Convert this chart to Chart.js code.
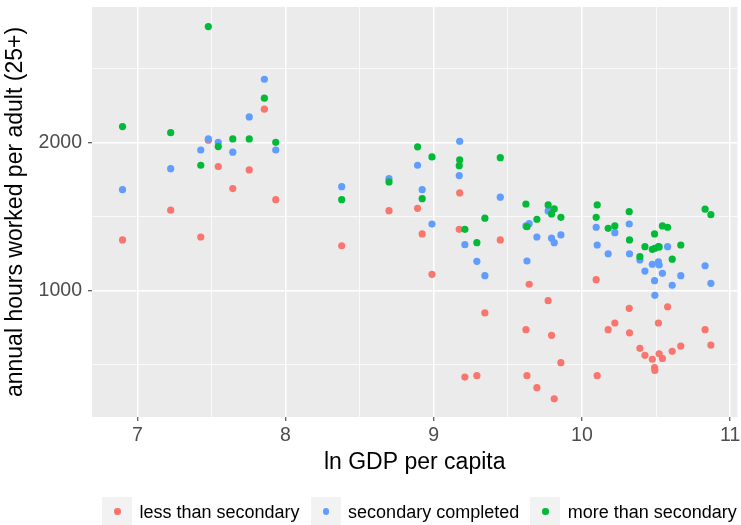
<!DOCTYPE html>
<html>
<head>
<meta charset="utf-8">
<script src="https://cdn.jsdelivr.net/npm/chart.js@4.4.1/dist/chart.umd.min.js"></script>
<style>
  html, body { margin: 0; padding: 0; background: #FFFFFF; }
  #wrap { position: relative; width: 741px; height: 525px; overflow: hidden; background: #FFFFFF; }
  #chart { position: absolute; left: 0; top: 0; }
  #legend { position: absolute; left: 102px; top: 497px; height: 30px; display: flex; align-items: center;
            font-family: "Liberation Sans", Arial, sans-serif; font-size: 18px; color: #000000; white-space: nowrap; }
  .item { display: flex; align-items: center; margin-right: 11px; }
  .key { width: 30px; height: 30px; background: #F2F2F2; position: relative; }
  .dot { position: absolute; left: 12px; top: 11px; width: 6.5px; height: 6.5px; border-radius: 50%; }
  .lab { margin-left: 7.5px; line-height: 30px; }
</style>
</head>
<body>
<div id="wrap">
  <canvas id="chart" width="741" height="525"></canvas>
  <div id="legend"></div>
</div>
<script>
// ---- data ----
const lnGdp = [6.90, 7.225, 7.428, 7.479, 7.546, 7.644, 7.755, 7.857, 7.934,
  8.379, 8.698, 8.891, 8.922, 8.988, 9.175, 9.172, 9.210, 9.291, 9.345, 9.449,
  9.622, 9.629, 9.644, 9.696, 9.772, 9.795, 9.813, 9.858,
  10.096, 10.103, 10.177, 10.222, 10.319, 10.321, 10.391, 10.425, 10.475, 10.490,
  10.492, 10.516, 10.521, 10.543, 10.578, 10.609, 10.667, 10.831, 10.870];

const lessThanSecondary = [1340, 1541, 1360, 2014, 1836, 1687, 1813, 2224, 1612,
  1301, 1538, 1554, 1381, 1108, 1658, 1412, 414, 423, 847, 1340,
  734, 423, 1041, 342, 930, 696, 267, 511,
  1072, 423, 734, 779, 878, 713, 608, 561, 534, 477,
  459, 779, 571, 540, 889, 588, 623, 734, 630];

const secondaryCompleted = [1680, 1822, 1948, 2023, 2000, 1933, 2171, 2426, 1948,
  1700, 1754, 1845, 1680, 1448, 2007, 1775, 1308, 1196, 1099, 1629,
  1435, 1198, 1450, 1360, 1536, 1352, 1322, 1374,
  1426, 1306, 1247, 1389, 1448, 1247, 1205, 1130, 1176, 1065,
  966, 1193, 1171, 1115, 1295, 1034, 1099, 1166, 1047];

const moreThanSecondary = [2106, 2065, 1845, 2782, 1971, 2023, 2023, 2298, 2000,
  1612, 1732, 1969, 1619, 1901, 1881, 1842, 1412, 1322, 1487, 1896,
  1583, 1430, null, 1480, 1577, 1516, 1550, 1493,
  1493, 1577, 1419, 1435, 1531, 1340, 1227, 1295, 1277, 1381,
  1284, 1295, 1293, 1435, 1426, 1210, 1306, 1548, 1511];

const seriesNames = ["less than secondary", "secondary completed", "more than secondary"];
const seriesValues = [lessThanSecondary, secondaryCompleted, moreThanSecondary];

const xTickValues = [7, 8, 9, 10, 11];
const xTickLabels = ["7", "8", "9", "10", "11"];
const yTickValues = [1000, 2000];
const yTickLabels = ["1000", "2000"];
const xGridValues = [7, 7.5, 8, 8.5, 9, 9.5, 10, 10.5, 11];
const yGridValues = [500, 1000, 1500, 2000, 2500];

const xTitle = "ln GDP per capita";
const yTitle = "annual hours worked per adult (25+)";

// ---- styles ----
const colors = ["#F8766D", "#619CFF", "#00BA38"];
const FONT = "'Liberation Sans', Arial, sans-serif";

const panelBg = {
  id: "panelBg",
  beforeDraw(chart) {
    const { ctx, chartArea: a } = chart;
    ctx.save();
    ctx.fillStyle = "#EBEBEB";
    ctx.fillRect(a.left, a.top, a.right - a.left, a.bottom - a.top);
    ctx.restore();
  }
};

function isMajor(ctx, majors) {
  return ctx.tick && majors.indexOf(ctx.tick.value) >= 0;
}

const datasets = seriesNames.map((name, k) => ({
  label: name,
  data: lnGdp.map((x, i) => ({ x: x, y: seriesValues[k][i] })).filter(p => p.y !== null),
  backgroundColor: colors[k],
  borderColor: colors[k],
  borderWidth: 0,
  pointRadius: 3.6,
  pointHoverRadius: 3.6,
  order: 3 - k
}));

new Chart(document.getElementById("chart"), {
  type: "scatter",
  data: { datasets: datasets },
  plugins: [panelBg],
  options: {
    responsive: false,
    animation: false,
    devicePixelRatio: 1,
    layout: { padding: { top: 7, right: 3.5, left: 0, bottom: 0 } },
    plugins: { legend: { display: false }, tooltip: { enabled: false } },
    scales: {
      x: {
        type: "linear",
        min: 6.694,
        max: 11.049,
        afterBuildTicks: s => { s.ticks = xGridValues.map(v => ({ value: v })); },
        afterFit: s => { s.height = 108; s.paddingLeft = 0; s.paddingRight = 0; },
        border: { display: false },
        grid: {
          color: "#FFFFFF",
          lineWidth: c => isMajor(c, xTickValues) ? 1.5 : 0.75,
          tickColor: c => isMajor(c, xTickValues) ? "#333333" : "rgba(0,0,0,0)",
          tickLength: 4,
          tickWidth: 1
        },
        ticks: {
          autoSkip: false,
          maxRotation: 0,
          padding: 3,
          color: "#4D4D4D",
          font: { family: FONT, size: 19.5 },
          callback: v => { const i = xTickValues.indexOf(v); return i >= 0 ? xTickLabels[i] : ""; }
        },
        title: {
          display: true,
          text: xTitle,
          color: "#000000",
          font: { family: FONT, size: 23 },
          padding: { top: 0, bottom: 49 }
        }
      },
      y: {
        type: "linear",
        min: 144,
        max: 2914,
        afterBuildTicks: s => { s.ticks = yGridValues.map(v => ({ value: v })); },
        afterFit: s => { s.width = 92; s.paddingTop = 0; s.paddingBottom = 0; },
        border: { display: false },
        grid: {
          color: "#FFFFFF",
          lineWidth: c => isMajor(c, yTickValues) ? 1.5 : 0.75,
          tickColor: c => isMajor(c, yTickValues) ? "#333333" : "rgba(0,0,0,0)",
          tickLength: 4,
          tickWidth: 1
        },
        ticks: {
          autoSkip: false,
          padding: 6,
          color: "#4D4D4D",
          font: { family: FONT, size: 19.5 },
          callback: v => { const i = yTickValues.indexOf(v); return i >= 0 ? yTickLabels[i] : ""; }
        },
        title: {
          display: true,
          text: yTitle,
          color: "#000000",
          font: { family: FONT, size: 23 },
          padding: { top: 2, bottom: 0 }
        }
      }
    }
  }
});

// ---- HTML legend built from the series names ----
const legend = document.getElementById("legend");
seriesNames.forEach((name, k) => {
  const item = document.createElement("div");
  item.className = "item";
  const key = document.createElement("span");
  key.className = "key";
  const dot = document.createElement("span");
  dot.className = "dot";
  dot.style.background = colors[k];
  key.appendChild(dot);
  const lab = document.createElement("span");
  lab.className = "lab";
  lab.textContent = name;
  item.appendChild(key);
  item.appendChild(lab);
  legend.appendChild(item);
});
</script>
</body>
</html>
